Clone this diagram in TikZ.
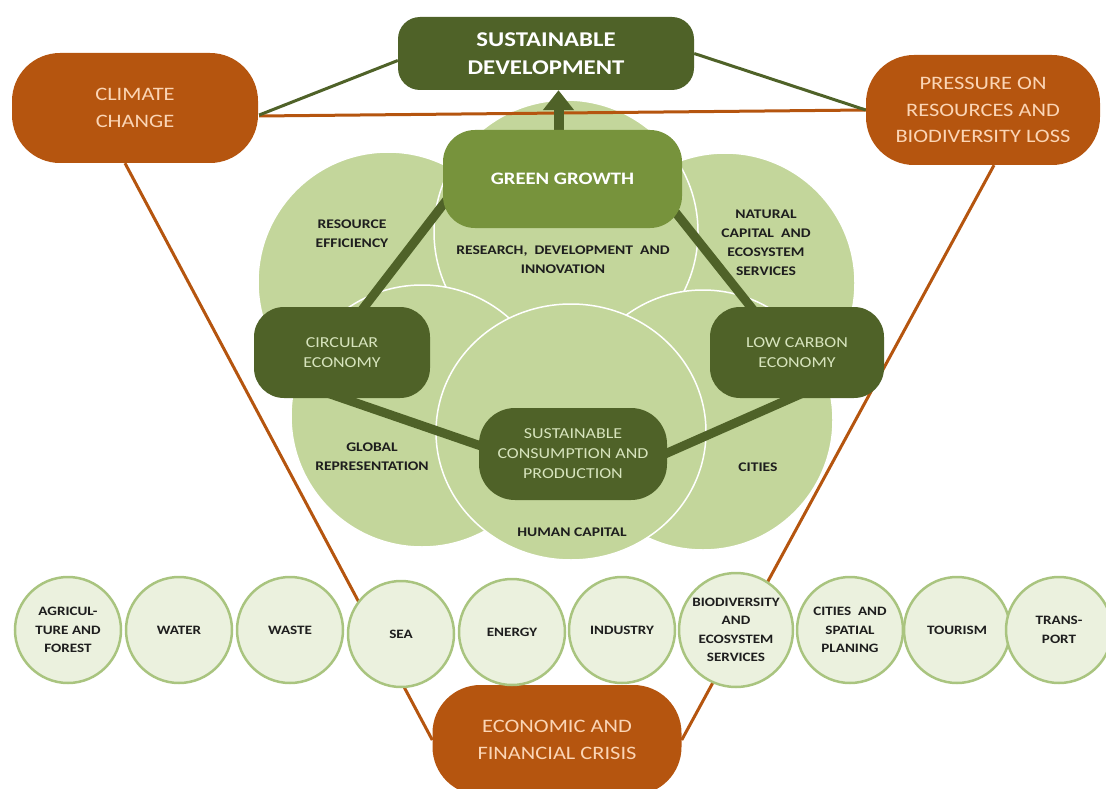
\documentclass[tikz,border=0pt]{standalone}
\usepackage{fontspec}
\setmainfont{Carlito}[FakeStretch=1.18]
\usetikzlibrary{calc,arrows.meta,shapes.geometric}
\definecolor{dkgreen}{HTML}{4F6228}
\definecolor{mdgreen}{HTML}{77933C}
\definecolor{ltgreen}{HTML}{C3D69B}
\definecolor{palegreen}{HTML}{EBF1DE}
\definecolor{ringgreen}{HTML}{A9C47F}
\definecolor{rust}{HTML}{B5550F}
\definecolor{peach}{HTML}{FBD5B5}
\definecolor{lighttext}{HTML}{D7E4BD}
\definecolor{labeltext}{HTML}{1E1E1E}
\pgfdeclarelayer{diag}
\pgfdeclarelayer{circ}
\pgfdeclarelayer{conn}
\pgfsetlayers{diag,circ,conn,main}
\tikzset{
 orangebox/.style={rectangle, rounded corners=48pt, fill=rust, text=peach, align=center, font=\fontsize{19}{26.5}\selectfont, inner sep=0pt},
 darkbox/.style={rectangle, rounded corners=30pt, fill=dkgreen, text=lighttext, align=center, font=\fontsize{15.2}{20}\selectfont, inner sep=0pt},
 bigcirc/.style={circle, fill=ltgreen, draw=white, line width=1.5pt, inner sep=0pt},
 smalllabel/.style={align=center, text=labeltext, font=\bfseries\fontsize{13.2}{19}\selectfont, inner sep=0pt},
 sector/.style={circle, fill=palegreen, draw=ringgreen, line width=2.5pt, minimum size=106pt, inner sep=0pt, align=center, text=labeltext, font=\bfseries\fontsize{12.8}{18.5}\selectfont},
 thinorange/.style={draw=rust, line width=3pt},
 thingreen/.style={draw=dkgreen, line width=3pt},
 thickgreen/.style={draw=dkgreen, line width=9pt},
}
\begin{document}
\begin{tikzpicture}[x=1pt,y=-1pt]
\useasboundingbox (0,0) rectangle (1106,789);
% big circles
\begin{pgfonlayer}{circ}
\node[bigcirc, minimum size=260pt] (cul) at (388,282) {};
\node[bigcirc, minimum size=260pt] (cur) at (725,283) {};
\node[bigcirc, minimum size=264pt] (ctop) at (566,232) {};
\node[bigcirc, minimum size=262pt] (cll) at (422,416) {};
\node[bigcirc, minimum size=260pt] (clr) at (703,420) {};
\node[ellipse, fill=ltgreen, draw=white, line width=1.5pt, inner sep=0pt, minimum width=270pt, minimum height=256pt] (chc) at (571,432) {};
\end{pgfonlayer}
% labels in circles
\node[smalllabel] (lre) at (352,234) {RESOURCE\\EFFICIENCY};
\node[smalllabel] (lrd) at (563,260) {RESEARCH,\ \ DEVELOPMENT\ \ AND\\INNOVATION};
\node[smalllabel] (lnc) at (766,243) {NATURAL\\CAPITAL\ \ AND\\ECOSYSTEM\\SERVICES};
\node[smalllabel] (lgr) at (372,457) {GLOBAL\\REPRESENTATION};
\node[smalllabel] (lci) at (758,467) {CITIES};
\node[smalllabel] (lhc) at (572,532) {HUMAN CAPITAL};
% main boxes
\node[orangebox, minimum width=246pt, minimum height=110pt] (cc) at (135,108) {CLIMATE\\CHANGE};
\node[orangebox, minimum width=234pt, minimum height=110pt] (pr) at (983,110) {PRESSURE ON\\RESOURCES AND\\BIODIVERSITY LOSS};
\node[rectangle, rounded corners=22pt, fill=dkgreen, text=white, align=center, inner sep=0pt, font=\bfseries\fontsize{21}{28}\selectfont, minimum width=296pt, minimum height=73pt] (sd) at (546,53.5) {SUSTAINABLE\\DEVELOPMENT};
\node[rectangle, rounded corners=32pt, fill=mdgreen, text=white, inner sep=0pt, font=\bfseries\fontsize{17.5}{22}\selectfont, minimum width=239pt, minimum height=98pt] (gg) at (562.5,179) {GREEN GROWTH};
\node[darkbox, minimum width=176pt, minimum height=91pt] (ce) at (342,352.5) {CIRCULAR\\ECONOMY};
\node[darkbox, minimum width=174pt, minimum height=91pt] (lc) at (797,352.5) {LOW CARBON\\ECONOMY};
\node[darkbox, rounded corners=36pt, minimum width=188pt, minimum height=92pt] (scp) at (573,454) {SUSTAINABLE\\CONSUMPTION AND\\PRODUCTION};
\node[orangebox, minimum width=249pt, minimum height=110pt] (ec) at (557,740) {ECONOMIC AND\\FINANCIAL CRISIS};
% sector circles
\node[sector] (s1) at (68,630) {AGRICUL-\\TURE AND\\FOREST};
\node[sector] (s2) at (179,630) {WATER};
\node[sector] (s3) at (290,630) {WASTE};
\node[sector] (s4) at (401,634) {SEA};
\node[sector] (s5) at (512,632) {ENERGY};
\node[sector] (s6) at (622,630) {INDUSTRY};
\node[sector, minimum size=114pt] (s7) at (736,630) {BIODIVERSITY\\AND\\ECOSYSTEM\\SERVICES};
\node[sector] (s8) at (850,630) {CITIES\ \ AND\\SPATIAL\\PLANING};
\node[sector] (s9) at (957,630) {TOURISM};
\node[sector] (s10) at (1059,630) {TRANS-\\PORT};
% connectors
\begin{pgfonlayer}{diag}
\draw[thinorange] ($(cc.south)+(-10,0)$) -- (ec.west);
\draw[thinorange] ($(pr.south)+(11,0)$) -- (ec.east);
\end{pgfonlayer}
\begin{pgfonlayer}{conn}
\draw[thinorange] ($(cc.east)+(1,8)$) -- (pr.west);
\draw[thingreen] ($(cc.east)+(1,7)$) -- ($(sd.west)+(0,7)$);
\draw[thingreen] (sd.east) -- (pr.west);
\draw[thickgreen] ($(gg)+(-102,3)$) -- ($(ce)+(8,-27)$);
\draw[thickgreen] ($(gg)+(88,2)$) -- ($(lc)+(-37,-34)$);
\draw[thickgreen] ($(ce)+(-22,38)$) -- ($(scp)+(-63,2)$);
\draw[thickgreen] ($(scp)+(67,11)$) -- ($(lc)+(23,33)$);
\coordinate (ga) at ($(gg.north)+(-4,2)$);
\draw[dkgreen, line width=10pt, -{Triangle[width=30pt,length=20pt]}] (ga) -- (ga |- sd.south);
\end{pgfonlayer}
\end{tikzpicture}
\end{document}
